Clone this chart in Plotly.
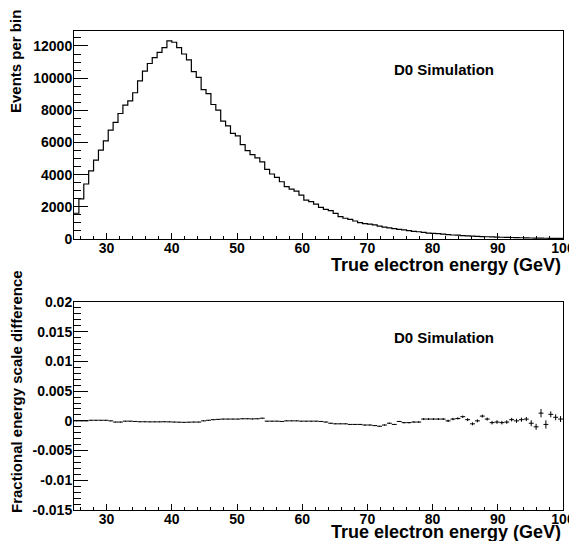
import plotly.graph_objects as go

# page is drawn with an 8 px body margin; size the figure so it fills the window
OFF = 8
W, H = 577 - OFF, 541 - OFF

# ---------------- data ----------------
bin_low = 25.0
bin_width = 0.75
n_bins = 100

events_per_bin = [
    1600, 2500, 3420, 4230, 4900, 5520, 6100, 6770, 7250, 7800,
    8320, 8590, 9090, 9830, 10430, 10910, 11280, 11600, 11900, 12310,
    12230, 11900, 11500, 11140, 10410, 10050, 9290, 9040, 8360, 8010,
    7330, 7030, 6570, 6410, 5870, 5490, 5250, 5040, 4800, 4330,
    4040, 3830, 3560, 3250, 3100, 2980, 2730, 2420, 2320, 2170,
    1970, 1840, 1760, 1590, 1390, 1290, 1220, 1120, 1020, 960,
    930, 880, 800, 740, 690, 650, 600, 570, 520, 480,
    450, 410, 370, 350, 330, 300, 270, 250, 235, 215,
    195, 180, 165, 150, 140, 130, 120, 110, 100, 92,
    85, 78, 70, 62, 58, 52, 48, 42, 38, 35,
]

scale_diff = [
    0.0, 0.0, 0.0, 0.0001, 0.0001, 0.0001, 0.0001, 0.0, -0.0002, -0.0002,
    -0.00005, -0.00005, -0.0001, -0.00015, -0.00015, -0.00017, -0.00017, -0.00017, -0.00015, -0.00017,
    -0.0002, -0.00022, -0.00025, -0.00022, -0.0002, -0.0002, 0.0, 0.0001, 0.0002, 0.00025,
    0.0003, 0.0003, 0.0003, 0.0003, 0.00035, 0.00035, 0.00033, 0.00035, 0.00045, -0.00005,
    -0.00005, -0.00005, -0.0001, 0.0, 0.0, 0.0, -0.00005, -0.00005, -0.00005, -0.00005,
    -0.0001, -0.0002, -0.0004, -0.0005, -0.0005, -0.0005, -0.0006, -0.0006, -0.0006, -0.0007,
    -0.0007, -0.0008, -0.0009, -0.0007, -0.0004, -0.0006, -0.0001, -0.0003, -0.0003, -0.0002,
    -0.0002, 0.0003, 0.0003, 0.0003, 0.0003, 0.0003, 0.0, 0.0003, 0.0004, 0.0007,
    0.0002, -0.0005, 0.0, 0.0008, 0.0003, -0.0003, -0.0002, -0.0003, -0.0002, 0.0002,
    0.0, 0.0002, 0.0003, -0.0004, -0.001, 0.0013, -0.0006, 0.0011, 0.0006, 0.0003,
]

scale_diff_err = [
    0.00002, 0.00002, 0.00002, 0.00002, 0.00002, 0.00002, 0.00002, 0.00002, 0.00002, 0.00002,
    0.00002, 0.00002, 0.00002, 0.00002, 0.00002, 0.00002, 0.00002, 0.00002, 0.00002, 0.00002,
    0.00002, 0.00002, 0.00002, 0.00002, 0.00002, 0.00002, 0.00002, 0.00002, 0.00002, 0.00002,
    0.00002, 0.00002, 0.00002, 0.00002, 0.00002, 0.00002, 0.00002, 0.00002, 0.00002, 0.00002,
    0.00002, 0.00002, 0.00002, 0.00002, 0.00002, 0.00002, 0.00003, 0.00003, 0.00003, 0.00003,
    0.00003, 0.00003, 0.00003, 0.00003, 0.00003, 0.00003, 0.00005, 0.00005, 0.00005, 0.00005,
    0.00005, 0.00005, 0.00005, 0.00008, 0.00008, 0.00008, 0.00008, 0.0001, 0.0001, 0.0001,
    0.0001, 0.00015, 0.00015, 0.00015, 0.00015, 0.00015, 0.0002, 0.0002, 0.0002, 0.0002,
    0.00025, 0.00025, 0.00025, 0.00025, 0.00025, 0.0003, 0.0003, 0.0003, 0.0003, 0.0003,
    0.00035, 0.00035, 0.00035, 0.0005, 0.0005, 0.0007, 0.0007, 0.0005, 0.0005, 0.0005,
]

top_y_ticks = [0, 2000, 4000, 6000, 8000, 10000, 12000]
top_y_labels = ["0", "2000", "4000", "6000", "8000", "10000", "12000"]
bot_y_ticks = [-0.015, -0.01, -0.005, 0, 0.005, 0.01, 0.015, 0.02]
bot_y_labels = ["-0.015", "-0.01", "-0.005", "0", "0.005", "0.01", "0.015", "0.02"]
x_ticks = [30, 40, 50, 60, 70, 80, 90, 100]
x_labels = ["30", "40", "50", "60", "70", "80", "90", "100"]

x_title = "True electron energy (GeV)"
top_y_title = "Events per bin"
bot_y_title = "Fractional energy scale difference"
label_text = "D0 Simulation"

# ---------------- derived ----------------
edges = [bin_low + bin_width * k for k in range(n_bins + 1)]
centers = [bin_low + bin_width * (k + 0.5) for k in range(n_bins)]
step_y = events_per_bin + [events_per_bin[-1]]


def px(x):
    return (x - OFF) / W


def py(y):
    return 1 - (y - OFF) / H


FAMILY = "Liberation Sans, Arial, Helvetica, sans-serif"
FONT = dict(family=FAMILY, size=14, color="black", weight="bold")

fig = go.Figure()

fig.add_trace(go.Scatter(
    x=edges, y=step_y, mode="lines", line=dict(shape="hv", color="black", width=1.2),
    xaxis="x", yaxis="y", hoverinfo="skip", showlegend=False,
))

fig.add_trace(go.Scatter(
    x=centers, y=scale_diff, mode="markers",
    marker=dict(size=1, color="black"),
    error_x=dict(type="constant", value=bin_width / 2, thickness=1, width=0, color="black"),
    error_y=dict(type="data", array=scale_diff_err, thickness=1, width=0, color="black"),
    xaxis="x2", yaxis="y2", hoverinfo="skip", showlegend=False,
))

axis_common = dict(
    showline=True, linecolor="black", linewidth=1, mirror=True,
    ticks="inside", tickcolor="black", tickwidth=1,
    showgrid=False, zeroline=False, tickfont=FONT, automargin=False,
)

x_dom = [px(74), px(563)]

fig.update_layout(
    width=W, height=H,
    autosize=False,
    margin=dict(l=0, r=0, t=0, b=0, pad=0),
    paper_bgcolor="white", plot_bgcolor="white",
    xaxis=dict(domain=x_dom, range=[25, 100], tickvals=x_ticks, ticktext=x_labels, ticklen=6,
               ticklabelstandoff=-4,
               minor=dict(dtick=2, tick0=0, ticklen=3, ticks="inside", tickcolor="black"),
               anchor="y", **axis_common),
    yaxis=dict(domain=[py(239), py(31)], range=[0, 12930], tickvals=top_y_ticks,
               ticktext=top_y_labels, ticklen=14, ticklabelstandoff=-2,
               minor=dict(dtick=500, tick0=0, ticklen=7, ticks="inside", tickcolor="black"),
               anchor="x", **axis_common),
    xaxis2=dict(domain=x_dom, range=[25, 100], tickvals=x_ticks, ticktext=x_labels, ticklen=6,
                ticklabelstandoff=-4,
                minor=dict(dtick=2, tick0=0, ticklen=3, ticks="inside", tickcolor="black"),
                anchor="y2", **axis_common),
    yaxis2=dict(domain=[py(510), py(302)], range=[-0.015, 0.02], tickvals=bot_y_ticks,
                ticktext=bot_y_labels, ticklen=14, ticklabelstandoff=-2,
                minor=dict(dtick=0.001, tick0=0, ticklen=7, ticks="inside", tickcolor="black"),
                anchor="x2", **axis_common),
)

TITLE_FONT = dict(family=FAMILY, size=15, color="black", weight="bold")
XTITLE_FONT = dict(family=FAMILY, size=18, color="black", weight="bold")
LABEL_FONT = dict(family=FAMILY, size=15, color="black", weight="bold")

annotations = [
    dict(text=x_title, x=px(563), y=py(265), xanchor="right", yanchor="middle", font=XTITLE_FONT),
    dict(text=x_title, x=px(563), y=py(532), xanchor="right", yanchor="middle", font=XTITLE_FONT),
    dict(text=top_y_title, x=px(16), y=py(62), xanchor="center", yanchor="middle", textangle=-90, font=TITLE_FONT),
    dict(text=bot_y_title, x=px(16), y=py(392), xanchor="center", yanchor="middle", textangle=-90, font=TITLE_FONT),
    dict(text=label_text, x=px(392), y=py(69), xanchor="left", yanchor="middle", font=LABEL_FONT),
    dict(text=label_text, x=px(392), y=py(337), xanchor="left", yanchor="middle", font=LABEL_FONT),
]
for a in annotations:
    a.update(xref="paper", yref="paper", showarrow=False)
fig.update_layout(annotations=annotations)

fig.write_html("out.html")
